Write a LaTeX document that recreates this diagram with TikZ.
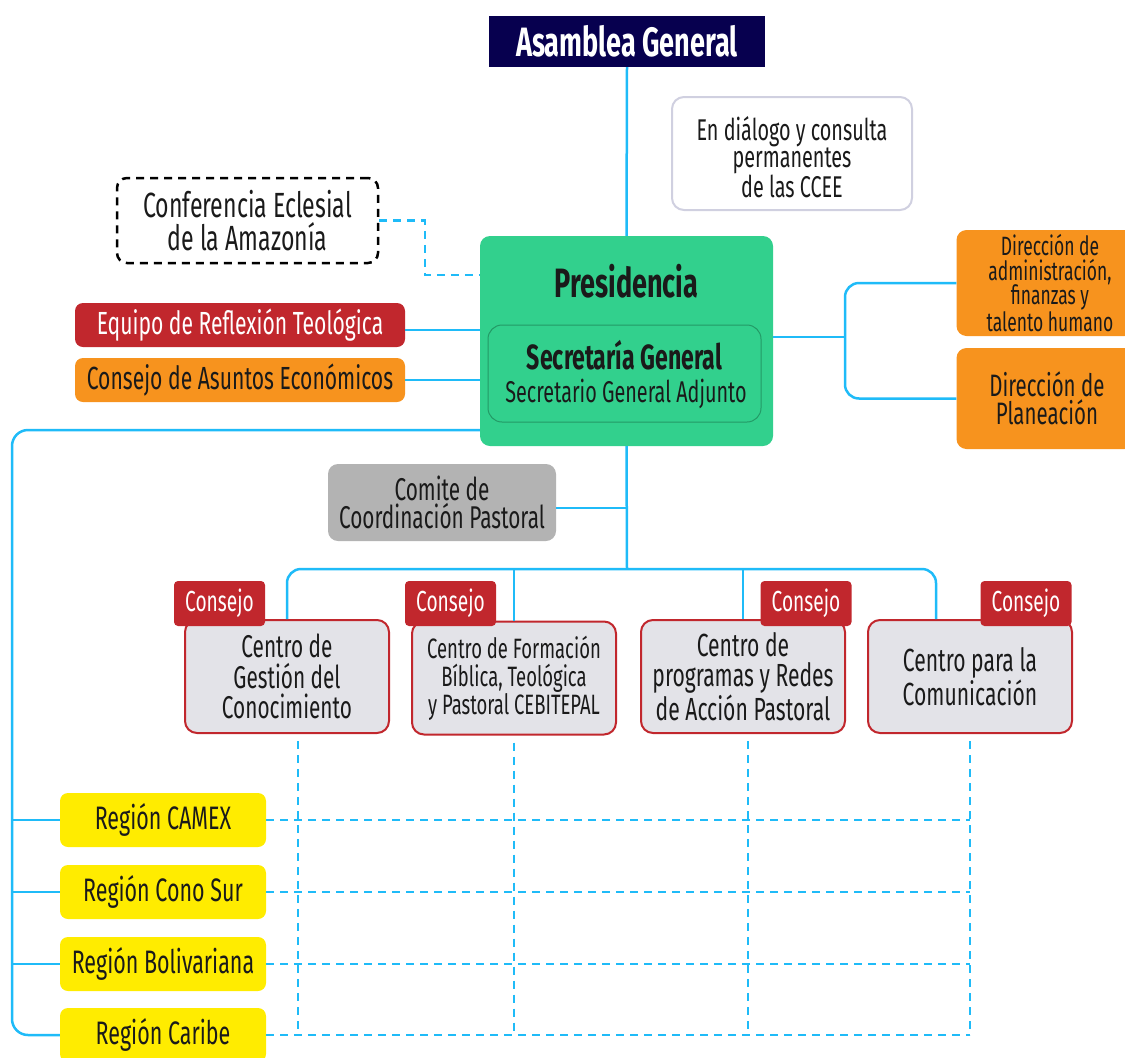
\documentclass[tikz,border=0pt]{standalone}
\usepackage{fontspec}
\setmainfont{Fira Sans}[FakeStretch=0.66]
\newcommand\myfs[2]{\fontsize{#1}{#2}\selectfont}
\definecolor{navy}{HTML}{07004F}
\definecolor{pgreen}{HTML}{32D08D}
\definecolor{dgreen}{HTML}{239A66}
\definecolor{lblue}{HTML}{1FBBF8}
\definecolor{cred}{HTML}{C1272D}
\definecolor{corange}{HTML}{F7931E}
\definecolor{cgray}{HTML}{B3B3B3}
\definecolor{cfill}{HTML}{E3E3E8}
\definecolor{cyellow}{HTML}{FFEC00}
\definecolor{lborder}{HTML}{D0D0E0}
\definecolor{ink}{HTML}{1A1A1A}
\tikzset{
  conn/.style={draw=lblue, line width=2.5pt},
  dconn/.style={conn, dash pattern=on 8pt off 6pt},
  bx/.style={inner sep=0pt, align=center, text=ink},
  side/.style={bx, rounded corners=8pt, minimum width=330pt, minimum height=44pt, font=\myfs{32}{32}},
  dirbox/.style={bx, fill=corange, rounded corners=10pt, minimum width=178pt},
  centro/.style={bx, draw=cred, line width=2pt, fill=cfill, rounded corners=12pt, minimum width=204pt, minimum height=113pt},
  tag/.style={bx, fill=cred, text=white, rounded corners=4pt, minimum width=91pt, minimum height=45pt, font=\myfs{29}{29}},
  region/.style={bx, fill=cyellow, rounded corners=8pt, minimum width=206pt, minimum height=54pt, font=\myfs{32.5}{32.5}},
}
\begin{document}
\begin{tikzpicture}[x=1pt,y=-1pt]
\useasboundingbox (0,0) rectangle (1125,1058);

% top
\node[bx, fill=navy, text=white, minimum width=276pt, minimum height=51pt, font=\bfseries\myfs{41}{41}] (asam) at (627,41.5) {Asamblea General};
\node[bx, draw=lborder, line width=2pt, fill=white, rounded corners=12pt, minimum width=240pt, minimum height=113pt] (dial) at (792,153.5) {};
\node[bx, font=\myfs{30}{27.5}] (dialtxt) at (792,157) {En diálogo y consulta\\permanentes\\de las CCEE};
\node[bx, draw=black, line width=2.5pt, dash pattern=on 8pt off 6pt, rounded corners=10pt, minimum width=261pt, minimum height=85pt, font=\myfs{35}{33}] (conf) at (247.5,220.5) {Conferencia Eclesial\\de la Amazonía};

% presidencia
\node[bx, fill=pgreen, rounded corners=10pt, minimum width=293pt, minimum height=210pt] (pres) at (626.5,341) {};
\node[bx, font=\bfseries\myfs{41}{41}] (prestxt) at (626.5,281) {Presidencia};
\node[bx, draw=dgreen, line width=1pt, rounded corners=14pt, minimum width=273pt, minimum height=97pt] (sec) at (624.5,373.5) {};
\node[bx, font=\bfseries\myfs{35}{35}] (sectxt) at (624.5,355) {Secretaría General};
\node[bx, font=\myfs{30}{30}] (adjtxt) at (626,394) {Secretario General Adjunto};

% left side boxes
\node[side, fill=cred, text=white] (equipo) at (240,325) {Equipo de Reflexión Teológica};
\node[side, fill=corange] (ecom) at (240,380) {Consejo de Asuntos Económicos};

% right side boxes
\node[dirbox, minimum height=106pt] (d1) at (1045.5,283) {};
\node[bx, font=\myfs{26.5}{24.5}] (d1txt) at (1050,283) {Dirección de\\administración,\\finanzas y\\talento humano};
\node[dirbox, minimum height=101pt] (d2) at (1045.5,398.5) {};
\node[bx, font=\myfs{31}{28}] (d2txt) at (1047,398.5) {Dirección de\\Planeación};

% comite
\node[bx, fill=cgray, rounded corners=10pt, minimum width=228pt, minimum height=77pt, font=\myfs{31.5}{28.5}] (com) at (442,502.5) {Comite de\\Coordinación Pastoral};

% centros
\node[centro, font=\myfs{31.5}{30.5}] (c1) at (287,676.5) {Centro de\\Gestión del\\Conocimiento};
\node[centro, font=\myfs{28}{28}] (c2) at (514,678) {Centro de Formación\\Bíblica, Teológica\\y Pastoral CEBITEPAL};
\node[centro, font=\myfs{32}{30.5}] (c3) at (743,676.5) {Centro de\\programas y Redes\\de Acción Pastoral};
\node[centro, font=\myfs{32}{30.5}] (c4) at (970,676.5) {Centro para la\\Comunicación};
\node[tag] (t1) at (219.5,603.5) {Consejo};
\node[tag] (t2) at (450.5,603.5) {Consejo};
\node[tag] (t3) at (806,603.5) {Consejo};
\node[tag] (t4) at (1026,603.5) {Consejo};

% regions
\node[region] (r1) at (163,820) {Región CAMEX};
\node[region] (r2) at (163,892) {Región Cono Sur};
\node[region] (r3) at (163,964) {Región Bolivariana};
\node[region] (r4) at (163,1035) {Región Caribe};

% coordinates
\coordinate (bus) at (627,569);
\coordinate (rj) at (845,341);
\coordinate (trunk) at (12,700);
\coordinate (dj) at (425,220.5);

% connectors
\draw[conn] (asam.south) -- (pres.north);
\draw[conn] (pres.south) -- (bus);
\draw[conn] (com.east |- 0,508) -- (627,508);
\draw[conn, rounded corners=14pt] (c1.north) |- (bus) -| ([xshift=-34pt]c4.north);
\draw[conn] (c2.north) -- (c2.north |- bus);
\draw[conn] (c3.north) -- (c3.north |- bus);
\draw[conn] (equipo.east |- 0,330) -- (pres.west |- 0,330);
\draw[conn] (ecom.east) -- (ecom.east -| pres.west);
\draw[conn] (pres.east |- 0,337) -- (rj |- 0,337);
\draw[conn, rounded corners=14pt] (d1.west) -| (rj) |- (d2.west);
\draw[dconn] (conf.east) -- (dj) |- ([yshift=66pt]pres.west);
\draw[conn, rounded corners=16pt] ([yshift=-89pt]pres.west) -| (trunk) |- (r4.west);
\draw[conn] (r1.west) -- (r1.west -| trunk);
\draw[conn] (r2.west) -- (r2.west -| trunk);
\draw[conn] (r3.west) -- (r3.west -| trunk);

% dashed grid
\draw[dconn] ([xshift=11pt,yshift=-7pt]c1.south) -- ([xshift=11pt]c1.south |- r4.east);
\draw[dconn] ([yshift=-7pt]c2.south) -- (c2.south |- r4.east);
\draw[dconn] ([xshift=5pt,yshift=-7pt]c3.south) -- ([xshift=5pt]c3.south |- r4.east);
\draw[dconn] ([yshift=-7pt]c4.south) -- (c4.south |- r4.east);
\draw[dconn] (r1.east) -- (r1.east -| c4.south);
\draw[dconn] (r2.east) -- (r2.east -| c4.south);
\draw[dconn] (r3.east) -- (r3.east -| c4.south);
\draw[dconn] (r4.east) -- (r4.east -| c4.south);
\end{tikzpicture}
\end{document}
